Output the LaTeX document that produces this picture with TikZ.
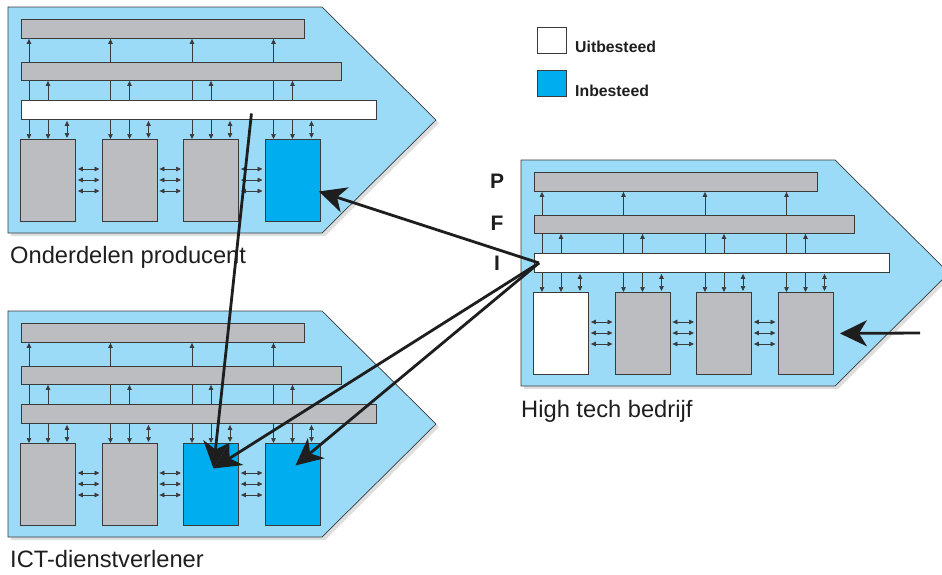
\documentclass[tikz,border=0pt]{standalone}
\usepackage{fontspec}
\setmainfont{Liberation Sans}
\usetikzlibrary{arrows.meta,calc}
\pgfdeclarelayer{panellayer}
\pgfdeclarelayer{backlayer}
\pgfsetlayers{panellayer,backlayer,main}
\definecolor{bgblue}{HTML}{9CDBF7}
\definecolor{inblue}{HTML}{00AEEF}
\definecolor{boxgrey}{HTML}{BCBDC1}
\definecolor{edge}{HTML}{3A3A3A}
\definecolor{ink}{HTML}{1E1E1E}
\tikzset{
  panel/.style={fill=bgblue, draw=edge, line width=0.7pt},
  panelshadow/.style={fill=black!13},
  bar/.style={draw=edge, line width=0.9pt, inner sep=0pt, anchor=north west, minimum height=19pt},
  unitbox/.style={draw=edge, line width=0.9pt, inner sep=0pt, anchor=north west, minimum width=55pt, minimum height=82pt},
  sarr/.style={draw=edge, line width=0.7pt, -{Triangle[length=5pt,width=4.5pt]}},
  darr/.style={draw=edge, line width=0.7pt, {Triangle[length=5pt,width=4.5pt]}-{Triangle[length=5pt,width=4.5pt]}},
  bigarr/.style={draw=ink, line width=2.8pt, -{Stealth[length=27pt,width=26pt,inset=8pt]}},
  lbl/.style={font=\fontsize{23.7}{26}\selectfont, text=ink, anchor=base west, inner sep=0pt},
  lvl/.style={font=\fontsize{21}{23}\selectfont\bfseries, text=ink, anchor=base, inner sep=0pt},
  leg/.style={font=\fontsize{15.8}{18}\selectfont\bfseries, text=ink, anchor=west, inner sep=0pt},
  legbox/.style={draw=edge, line width=0.8pt, inner sep=0pt, anchor=north west, minimum width=29pt, minimum height=26pt},
}
\newcommand\blk[8]{%
 \begin{scope}[shift={(#2,#3)}, name prefix=#1-]
  \begin{pgfonlayer}{panellayer}
   \fill[panelshadow] (11,10) -- (325,10) -- (439,123) -- (325,236) -- (11,236) -- cycle;
   \path[panel] (8,7) -- (322,7) -- (436,120) -- (322,233) -- (8,233) -- cycle;
  \end{pgfonlayer}
  \node[bar, fill=boxgrey, minimum width=283pt] (P) at (21,19) {};
  \node[bar, fill=boxgrey, minimum width=320pt, minimum height=18pt] (F) at (21,62) {};
  \node[bar, fill=#4, minimum width=355pt] (I) at (21,100) {};
  \foreach \i/\f in {1/#5,2/#6,3/#7,4/#8}{
    \node[unitbox, fill=\f] (b\i) at ({20+81.5*(\i-1)},139) {};
    \coordinate (ca\i) at ([xshift=9pt]b\i.north west);
    \coordinate (cb\i) at ([xshift=28pt]b\i.north west);
    \coordinate (cc\i) at ([xshift=47pt]b\i.north west);
  }
  \begin{pgfonlayer}{backlayer}
   \foreach \i in {1,2,3,4}{
     \draw[sarr] (ca\i |- I.north) -- (ca\i |- P.south);
     \draw[sarr] (cb\i |- I.north) -- (cb\i |- F.south);
     \draw[sarr] (ca\i |- I.south) -- (ca\i);
     \draw[sarr] (cb\i |- I.south) -- (cb\i);
     \draw[darr] ([yshift=-1pt]cc\i |- I.south) -- ([yshift=1pt]cc\i);
   }
  \end{pgfonlayer}
  \foreach \i/\j in {1/2,2/3,3/4}{
    \foreach \d in {30,41,52}{
      \draw[darr] ([shift={(2pt,-\d pt)}]b\i.north east) -- ([shift={(-2pt,-\d pt)}]b\j.north west);
    }
  }
 \end{scope}}
\begin{document}
\begin{tikzpicture}[x=1pt,y=-1pt]
\useasboundingbox (0,0) rectangle (942,574);
\blk{A}{0}{0}{white}{boxgrey}{boxgrey}{boxgrey}{inblue}
\blk{B}{0}{304}{boxgrey}{boxgrey}{boxgrey}{inblue}{inblue}
\blk{C}{513}{153}{white}{white}{boxgrey}{boxgrey}{boxgrey}
% labels
\node[lbl] (labA) at (10,263) {Onderdelen producent};
\node[lbl] (labB) at (10,567) {ICT-dienstverlener};
\node[lbl] (labC) at (521,417) {High tech bedrijf};
\node[lvl] (lP) at (497,188) {P};
\node[lvl] (lF) at (497,230) {F};
\node[lvl] (lI) at (497,270) {I};
% legend
\node[legbox, fill=white] (legU) at (537,27) {};
\node[legbox, fill=inblue] (legI) at (537,70) {};
\node[leg] (legUt) at (575,47) {Uitbesteed};
\node[leg] (legIt) at (575,91) {Inbesteed};
% big arrows
\coordinate (src) at ([xshift=5pt]C-I.west);
\coordinate (srcA) at ([shift={(52.5pt,-3.5pt)}]A-I.center);
\coordinate (ext) at (920,333);
\draw[bigarr] (src) -- ([shift={(-1.5pt,-11pt)}]A-b4.east);
\draw[bigarr] (src) -- ([shift={(2.5pt,16pt)}]B-b3.center);
\draw[bigarr] (src) -- ([shift={(3pt,19pt)}]B-b4.center);
\draw[bigarr] (srcA) -- ([shift={(2.5pt,16pt)}]B-b3.center);
\draw[bigarr] (ext) -- ([xshift=6.5pt]C-b4.east);
\end{tikzpicture}
\end{document}
